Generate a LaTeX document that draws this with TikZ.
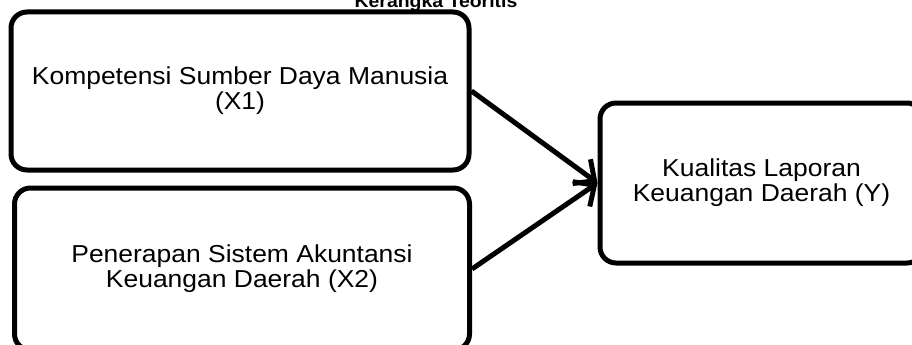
\documentclass[tikz,border=0pt]{standalone}
\usepackage{fontspec}
\setmainfont[FakeStretch=1.08]{Liberation Sans}
\usetikzlibrary{arrows.meta}

\tikzset{
  varbox/.style={draw=black, line width=5pt, rounded corners=16pt,
    align=center, inner sep=0pt,
    font=\fontsize{24.5pt}{25pt}\selectfont},
  flow/.style={line width=5pt,
    -{Straight Barb[length=16pt,width=30pt,line width=5pt]}},
  heading/.style={font=\fontsize{18pt}{20pt}\selectfont\bfseries,
    anchor=base, inner sep=0pt}
}

\begin{document}
\begin{tikzpicture}[x=1pt,y=-1pt]
  \useasboundingbox (0,0) rectangle (912,345);
  \clip (0,0) rectangle (912,345);

  % heading, partly above the frame
  \node[heading] (title) at (436,8) {Kerangka Teoritis};

  % independent variables
  \node[varbox, minimum width=458pt, minimum height=158pt] (x1) at (240,91)
    {Kompetensi Sumber Daya Manusia\\(X1)};
  \node[varbox, minimum width=455pt, minimum height=162pt] (x2) at (242,269)
    {Penerapan Sistem Akuntansi\\Keuangan Daerah (X2)};

  % dependent variable
  \node[varbox, minimum width=323pt, minimum height=160pt] (y) at (761.5,183)
    {Kualitas Laporan\\Keuangan Daerah (Y)};

  % influences
  \draw[flow] (x1.east) -- (y.west);
  \draw[flow] (x2.east) -- (y.west);
\end{tikzpicture}
\end{document}
